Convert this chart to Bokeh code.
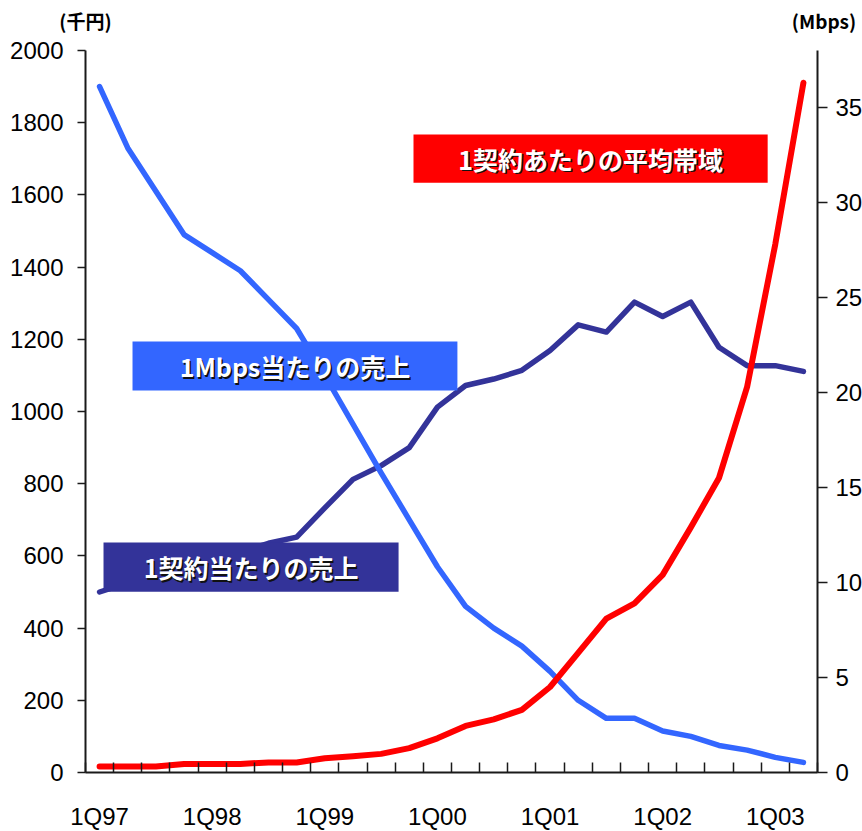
from bokeh.plotting import figure
from bokeh.models import Range1d, LinearAxis, FixedTicker
from bokeh.core.properties import value
from bokeh.embed import file_html
from bokeh.resources import INLINE

# Quarterly periods, 1Q97 .. 2Q03
quarters = [
    "1Q97", "2Q97", "3Q97", "4Q97",
    "1Q98", "2Q98", "3Q98", "4Q98",
    "1Q99", "2Q99", "3Q99", "4Q99",
    "1Q00", "2Q00", "3Q00", "4Q00",
    "1Q01", "2Q01", "3Q01", "4Q01",
    "1Q02", "2Q02", "3Q02", "4Q02",
    "1Q03", "2Q03",
]
year_tick_labels = ["1Q97", "1Q98", "1Q99", "1Q00", "1Q01", "1Q02", "1Q03"]

# Revenue per 1 Mbps (thousand yen, left axis)
rev_per_mbps = [1900, 1730, 1610, 1490, 1440, 1390, 1310, 1230, 1100, 965,
                830, 700, 570, 460, 400, 350, 280, 200, 150, 150,
                115, 100, 75, 62, 42, 28]
# Revenue per contract (thousand yen, left axis)
rev_per_contract = [500, 525, 550, 570, 590, 610, 635, 652, 733, 812,
                    850, 900, 1012, 1072, 1090, 1114, 1169, 1240, 1220, 1303,
                    1263, 1303, 1178, 1127, 1127, 1111]
# Average bandwidth per contract (Mbps, right axis)
avg_bandwidth = [0.32, 0.32, 0.32, 0.45, 0.45, 0.45, 0.53, 0.53, 0.75, 0.86,
                 0.98, 1.28, 1.8, 2.45, 2.8, 3.3, 4.5, 6.3, 8.1, 8.9,
                 10.4, 12.9, 15.5, 20.3, 27.8, 36.3]

series_names = ["1契約あたりの平均帯域", "1Mbps当たりの売上", "1契約当たりの売上"]
unit_captions = ["(千円)", "\u00a0\u00a0\u00a0(Mbps)"]

BLUE = "#3366FF"
NAVY = "#333399"
RED = "#FF0000"
AXIS = "#1a1a1a"
NUM_FONT = "Liberation Sans"
JP_FONT = "Noto Sans CJK JP"
FRAME_W, FRAME_H = 732, 722

x = list(range(len(quarters)))

p = figure(
    frame_width=FRAME_W, frame_height=FRAME_H,
    x_range=Range1d(-0.5, len(quarters) - 0.5),
    y_range=Range1d(0, 2000),
    title=None, output_backend="svg", toolbar_location=None,
    min_border_left=85, min_border_right=45,
    min_border_top=50, min_border_bottom=59,
)
p.extra_y_ranges = {"mbps": Range1d(0, 38)}
p.extra_x_ranges = {"caption": Range1d(0, FRAME_W)}
p.outline_line_color = None
p.xgrid.grid_line_color = None
p.ygrid.grid_line_color = None
p.background_fill_color = "white"
p.border_fill_color = "white"

# bottom axis: year labels, quarter boundary ticks pointing inward
xa = p.xaxis[0]
xa.ticker = FixedTicker(ticks=[quarters.index(q) for q in year_tick_labels],
                        minor_ticks=[i - 0.5 for i in range(len(quarters) + 1)])
xa.major_label_overrides = {quarters.index(q): q for q in year_tick_labels}
xa.major_tick_line_color = None
xa.major_tick_in = 0
xa.major_tick_out = 0
xa.minor_tick_in = 10
xa.minor_tick_out = 0
xa.minor_tick_line_color = AXIS
xa.minor_tick_line_width = 1.5
xa.axis_line_color = AXIS
xa.axis_line_width = 2
xa.major_label_standoff = 30
xa.major_label_text_font = NUM_FONT
xa.major_label_text_font_size = "24px"
xa.major_label_text_color = "black"

# left axis: thousand yen
ya = p.yaxis[0]
ya.ticker = FixedTicker(ticks=list(range(0, 2001, 200)))
ya.major_tick_in = 0
ya.major_tick_out = 8
ya.major_tick_line_color = AXIS
ya.major_tick_line_width = 1.5
ya.minor_tick_line_color = None
ya.axis_line_color = AXIS
ya.axis_line_width = 2
ya.major_label_standoff = 14
ya.major_label_text_font = NUM_FONT
ya.major_label_text_font_size = "24px"
ya.major_label_text_color = "black"

# right axis: Mbps
ra = LinearAxis(y_range_name="mbps", ticker=FixedTicker(ticks=list(range(0, 36, 5))))
ra.major_tick_in = 0
ra.major_tick_out = 10
ra.major_tick_line_color = AXIS
ra.major_tick_line_width = 1.5
ra.minor_tick_line_color = None
ra.axis_line_color = AXIS
ra.axis_line_width = 2
ra.major_label_standoff = 8
ra.major_label_text_font = NUM_FONT
ra.major_label_text_font_size = "24px"
ra.major_label_text_color = "black"
p.add_layout(ra, "right")

# unit captions sitting above the left and right axes
ca = LinearAxis(x_range_name="caption", ticker=FixedTicker(ticks=[0, FRAME_W]))
ca.major_label_overrides = {0: unit_captions[0], FRAME_W: unit_captions[1]}
ca.axis_line_color = None
ca.major_tick_line_color = None
ca.minor_tick_line_color = None
ca.major_tick_in = 0
ca.major_tick_out = 0
ca.major_label_standoff = 17
ca.major_label_text_font = JP_FONT
ca.major_label_text_font_style = "bold"
ca.major_label_text_font_size = "19px"
ca.major_label_text_color = "black"
p.add_layout(ca, "above")

# series lines
p.line(x, rev_per_contract, line_color=NAVY, line_width=5.5,
       line_cap="round", line_join="round")
p.line(x, rev_per_mbps, line_color=BLUE, line_width=5.5,
       line_cap="round", line_join="round")
p.line(x, avg_bandwidth, line_color=RED, line_width=6,
       line_cap="round", line_join="round", y_range_name="mbps")

# series name tags (boxes sit over the lines)
tag_left = [11.15, 1.17, 0.14]
tag_right = [23.73, 12.71, 10.62]
tag_top = [1767, 1194, 637]
tag_bottom = [1634, 1058, 501]
tag_colors = [RED, BLUE, NAVY]
p.quad(left=tag_left, right=tag_right, top=tag_top, bottom=tag_bottom,
       fill_color=tag_colors, line_color=None)

tag_cx = [(l + r) / 2 for l, r in zip(tag_left, tag_right)]
tag_cy = [(t + b) / 2 for t, b in zip(tag_top, tag_bottom)]
p.text(x=tag_cx, y=tag_cy, text=series_names, x_offset=1.5, y_offset=1.5,
       text_color="#111111", text_align="center", text_baseline="middle",
       text_font=value(JP_FONT), text_font_style="bold", text_font_size="25px")
p.text(x=tag_cx, y=tag_cy, text=series_names,
       text_color="white", text_align="center", text_baseline="middle",
       text_font=value(JP_FONT), text_font_style="bold", text_font_size="25px")

open("out.html", "w").write(file_html(p, INLINE))
